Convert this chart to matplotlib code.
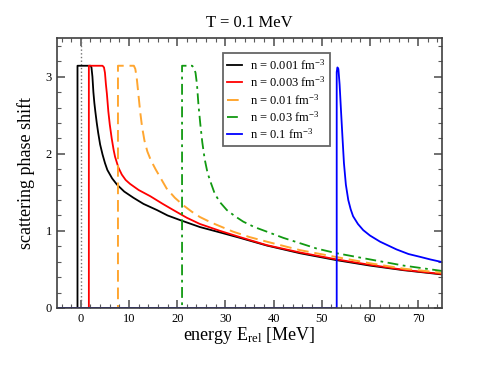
import numpy as np
import matplotlib
matplotlib.use("Agg")
import matplotlib.pyplot as plt
from matplotlib.ticker import MultipleLocator

plt.rcParams['font.family'] = ['Liberation Serif', 'DejaVu Serif']
plt.rcParams['mathtext.fontset'] = 'custom'
plt.rcParams['mathtext.rm'] = 'Liberation Serif'
plt.rcParams['mathtext.it'] = 'Liberation Serif:italic'

PI = np.pi

# values (energy in MeV, phase shift in rad)
e_001 = [-5, -0.7, -0.7, 2.0, 2.2, 2.4, 2.6, 2.8, 3.0, 3.3, 3.6, 4.0, 4.5, 5.0, 5.5,
         6.5, 7.5, 9.0, 10.9, 13.0, 15.8, 18.0, 20.6, 24.7, 28.9, 33.0, 38.6, 45.5,
         53.1, 60.0, 67.0, 75.0]
p_001 = [0, 0, PI, PI, 3.12, 3.00, 2.80, 2.66, 2.55, 2.40, 2.27, 2.12, 1.99, 1.88, 1.79,
         1.68, 1.60, 1.51, 1.43, 1.35, 1.27, 1.20, 1.14, 1.05, 0.98, 0.91, 0.81, 0.71,
         0.62, 0.55, 0.49, 0.435]

e_003 = [-5, 1.66, 1.66, 4.5, 4.8, 5.0, 5.2, 5.4, 5.7, 6.0, 6.4, 6.8, 7.1, 7.8, 8.5,
         9.3, 10.2, 12.0, 14.4, 17.0, 19.2, 22.0, 24.7, 28.9, 33.0, 38.6, 45.5, 53.1,
         60.0, 67.0, 75.0]
p_003 = [0, 0, PI, PI, 3.12, 3.05, 2.90, 2.78, 2.55, 2.38, 2.20, 2.05, 1.96, 1.82, 1.73,
         1.66, 1.61, 1.53, 1.45, 1.35, 1.27, 1.17, 1.09, 1.00, 0.92, 0.815, 0.72, 0.63,
         0.56, 0.495, 0.44]

e_01 = [-5, 7.7, 7.7, 11.0, 11.3, 11.6, 11.9, 12.3, 12.7, 13.2, 13.8, 14.5, 15.5,
        16.6, 17.8, 19.5, 21.3, 23.0, 24.7, 27.0, 28.9, 31.6, 35.0, 38.6, 45.5, 53.1,
        60.0, 67.0, 75.0]
p_01 = [0, 0, PI, PI, 3.10, 2.98, 2.80, 2.55, 2.35, 2.17, 2.03, 1.92, 1.80,
        1.68, 1.55, 1.43, 1.33, 1.25, 1.18, 1.11, 1.06, 0.99, 0.92, 0.86, 0.75, 0.66,
        0.58, 0.51, 0.456]

e_03 = [-5, 21.0, 21.0, 23.1, 23.5, 23.8, 24.1, 24.4, 24.8, 25.2, 25.7, 26.3, 27.0,
        27.8, 28.9, 30.3, 32.0, 33.7, 36.0, 38.6, 42.0, 45.5, 49.0, 53.1, 60.0, 67.0,
        75.0]
p_03 = [0, 0, PI, PI, 3.11, 3.05, 2.90, 2.64, 2.38, 2.15, 1.93, 1.75, 1.62,
        1.48, 1.37, 1.27, 1.19, 1.12, 1.05, 0.99, 0.91, 0.84, 0.77, 0.71, 0.63, 0.55,
        0.48]

e_1 = [-5, 53.1, 53.1, 53.25, 53.45, 53.7, 54.0, 54.3, 54.6, 55.0, 55.5, 56.0, 56.5,
       57.5, 58.6, 60.0, 62.1, 65.5, 68.0, 70.3, 72.5, 75.0]
p_1 = [0, 0, 3.06, 3.12, 3.10, 2.90, 2.55, 2.21, 1.88, 1.60, 1.40, 1.28, 1.19,
       1.09, 1.01, 0.94, 0.86, 0.76, 0.70, 0.665, 0.63, 0.595]

fig = plt.figure(figsize=(4.98, 3.85), dpi=100)
ax = fig.add_axes([0.114, 0.2, 0.774, 0.701])

ax.axvline(0, color='0.45', ls=':', lw=1.0)

ax.plot(e_001, p_001, color='black', lw=1.3, label='n = 0.001 fm$^{-3}$')
ax.plot(e_003, p_003, color='red', lw=1.3, label='n = 0.003 fm$^{-3}$')
ax.plot(e_01, p_01, color='#ffa630', lw=1.4, dashes=(6, 3), label='n = 0.01 fm$^{-3}$')
ax.plot(e_03, p_03, color='#119911', lw=1.3, dashes=(6, 2.5, 1.5, 2.5), label='n = 0.03 fm$^{-3}$')
ax.plot(e_1, p_1, color='blue', lw=1.3, label='n = 0.1 fm$^{-3}$')

ax.set_xlim(-5, 75)
ax.set_ylim(0, 3.5)
ax.xaxis.set_major_locator(MultipleLocator(10))
ax.xaxis.set_minor_locator(MultipleLocator(2))
ax.yaxis.set_major_locator(MultipleLocator(1))
ax.yaxis.set_minor_locator(MultipleLocator(0.2))
ax.tick_params(which='both', direction='in', top=True, right=True, labelsize=9, colors='0.35',
               labelcolor='black')
ax.tick_params(which='major', length=6, width=1.2)
ax.tick_params(which='minor', length=3, width=0.8)
for s in ax.spines.values():
    s.set_color('0.25')
    s.set_linewidth(1.2)

ax.set_title('T = 0.1 MeV', fontsize=12, pad=8)
ax.set_xlabel('energy E$_{\\rm rel}$ [MeV]', fontsize=13, labelpad=0)
ax.set_ylabel('scattering phase shift', fontsize=13, labelpad=8)

leg = ax.legend(loc='upper left', bbox_to_anchor=(0.4305, 0.943), fontsize=9, fancybox=False,
                handlelength=1.2, borderpad=0.35, labelspacing=0.22, handletextpad=0.6,
                borderaxespad=0, framealpha=1)
leg.get_frame().set_edgecolor('0.4')
leg.get_frame().set_linewidth(1.3)

fig.savefig('out.png', dpi=100)
